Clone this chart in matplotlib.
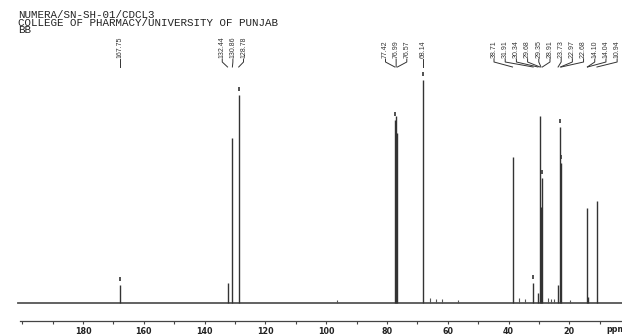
import numpy as np
import matplotlib.pyplot as plt

# header printed on the spectrum
header_lines = ["NUMERA/SN-SH-01/CDCL3",
                "COLLEGE OF PHARMACY/UNIVERSITY OF PUNJAB",
                "BB"]

# picked peaks (ppm) and their heights (arbitrary units)
peak_ppm = [167.75, 132.44, 130.86, 128.78,
            77.42, 76.99, 76.57, 68.14,
            38.71, 31.91, 30.34, 29.68, 29.35, 28.91,
            23.73, 22.97, 22.68, 14.10, 14.04, 10.94]
peak_height = [18, 20, 165, 208,
               183, 187, 170, 223,
               146, 20, 10, 187, 96, 125,
               18, 176, 140, 95, 6, 102]

# label groups (number of labels in each cluster, left to right)
group_sizes = [1, 3, 3, 1, 12]

# small unlabelled bumps along the baseline
minor_ppm = [96.5, 65.8, 63.8, 61.8, 56.5, 36.6, 34.5, 27.0, 26.0, 25.0, 19.8]
minor_height = [3, 5, 4, 4, 3, 5, 4, 5, 4, 4, 3]

# peaks that carry a small pick mark above the top
marked_ppm = [167.75, 128.78, 77.42, 68.14, 31.91, 28.91, 22.97, 22.68]

# axis ticks
major_ticks = [20, 40, 60, 80, 100, 120, 140, 160, 180]
minor_ticks = list(range(10, 201, 10))

x_left, x_right = 207.3, 2.7
line_col = '#333333'

fig = plt.figure(figsize=(6.22, 3.35), dpi=100)
ax = fig.add_axes([0, 0, 1, 1])
ax.set_xlim(x_left, x_right)
ax.set_ylim(-32, 303)
ax.axis('off')

# baseline and peaks
ax.plot([201.4, x_right], [0, 0], color='#555555', lw=1.3)
ax.vlines(peak_ppm, 0, peak_height, color=line_col, lw=1.0)
ax.vlines(minor_ppm, 0, minor_height, color='#555555', lw=0.8)
for p in marked_ppm:
    h = peak_height[peak_ppm.index(p)]
    ax.vlines(p, h + 4, h + 8, color=line_col, lw=1.2)

# peak labels with leader lines
start = 0
for n in group_sizes:
    ppms = peak_ppm[start:start + n]
    if n == 1:
        lx = ppms
    elif n == 12:
        lx = np.linspace(44.8, 4.3, n)
    else:
        c = np.mean(ppms)
        lx = c + np.array([3.5, 0, -3.5])
    for p, x in zip(ppms, lx):
        ax.text(x, 245, f'{p:.2f}', rotation=90, ha='center', va='bottom',
                family='Liberation Sans', fontsize=5, color=line_col)
        ax.plot([x, x, p], [244, 241, 236], color=line_col, lw=0.7)
    start += n

# header text
for i, line in enumerate(header_lines):
    fig.text(18 / 622, 1 - (15 + 7.5 * i) / 335, line, va='center', ha='left',
             family='Liberation Mono', fontsize=7.8, color='#222222')

# ppm scale
ax2 = fig.add_axes([0, 14 / 335, 1, 0.002])
ax2.set_xlim(x_left, x_right)
ax2.patch.set_visible(False)
for s in ['top', 'left', 'right']:
    ax2.spines[s].set_visible(False)
ax2.spines['bottom'].set_bounds(x_right, 200.7)
ax2.spines['bottom'].set_color('#444444')
ax2.spines['bottom'].set_linewidth(0.9)
ax2.set_yticks([])
ax2.set_xticks(major_ticks)
ax2.set_xticks(minor_ticks, minor=True)
ax2.tick_params(axis='x', which='both', direction='out', length=2, width=0.8,
                color='#444444', pad=2.2, labelsize=5.8)
for lab in ax2.get_xticklabels():
    lab.set_fontweight('bold')
    lab.set_color('#222222')

ax.text(4.6, -27, 'ppm', ha='center', va='center', fontsize=5.8,
        fontweight='bold', color='#222222')

fig.savefig('out.png', dpi=100)
